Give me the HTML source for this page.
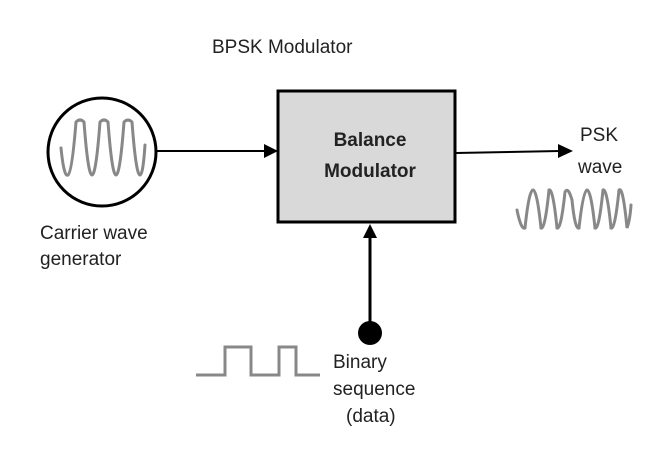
<!DOCTYPE html>
<html><head><style>body{margin:0;background:#fff}svg{display:block}text{font-family:"Liberation Sans",sans-serif;font-size:19px;fill:#222}</style></head>
<body>
<svg width="664" height="463" viewBox="0 0 664 463">
<text x="212" y="53">BPSK Modulator</text>
<rect x="278" y="91" width="177" height="131" fill="#d9d9d9" stroke="#000" stroke-width="3"/>
<text x="370" y="146" text-anchor="middle" font-weight="bold">Balance</text>
<text x="370" y="177" text-anchor="middle" font-weight="bold">Modulator</text>
<circle cx="102" cy="152" r="54" fill="#fff" stroke="#000" stroke-width="3"/>
<path fill="none" stroke="#888" stroke-width="3" stroke-linecap="round" d="M61,148 Q64,178 68,175 Q72,172 76,122 Q80,118 84,122 Q88,175 92,175 Q96,175 100,122 Q104,118 108,122 Q112,175 116,175 Q120,175 124,122 Q128,118 132,122 Q136,175 140,175 Q143,175 145,145"/>
<line x1="157" y1="151" x2="266" y2="151" stroke="#000" stroke-width="2"/>
<polygon points="264,144 278,151 264,158" fill="#000"/>
<line x1="456" y1="153" x2="560" y2="151" stroke="#000" stroke-width="2"/>
<polygon points="558,144 573,151 558,158" fill="#000"/>
<text x="580" y="141">PSK</text>
<text x="578" y="173">wave</text>
<path fill="none" stroke="#888" stroke-width="3" stroke-linecap="round" d="M517,210 Q521,230 525,228 Q529,190 533,190 Q537,190 541,228 Q545,230 549,190 Q553,188 557,228 Q561,230 565,192 Q568,186 572,200 Q575,230 579,228 Q583,192 587,190 Q591,190 595,228 Q599,230 603,190 Q607,188 611,228 Q615,230 619,190 Q623,186 627,228 Q630,220 631,205"/>
<line x1="370" y1="236" x2="370" y2="330" stroke="#000" stroke-width="3"/>
<polygon points="363,238 370,224 377,238" fill="#000"/>
<circle cx="370" cy="333" r="12" fill="#000"/>
<polyline fill="none" stroke="#888" stroke-width="3" points="196,375 225,375 225,347 251,347 251,375 279,375 279,347 296,347 296,375 320,375"/>
<text x="333" y="368">Binary</text>
<text x="333" y="395">sequence</text>
<text x="346" y="422">(data)</text>
<text x="40" y="239">Carrier wave</text>
<text x="40" y="265">generator</text>
</svg>
</body></html>
